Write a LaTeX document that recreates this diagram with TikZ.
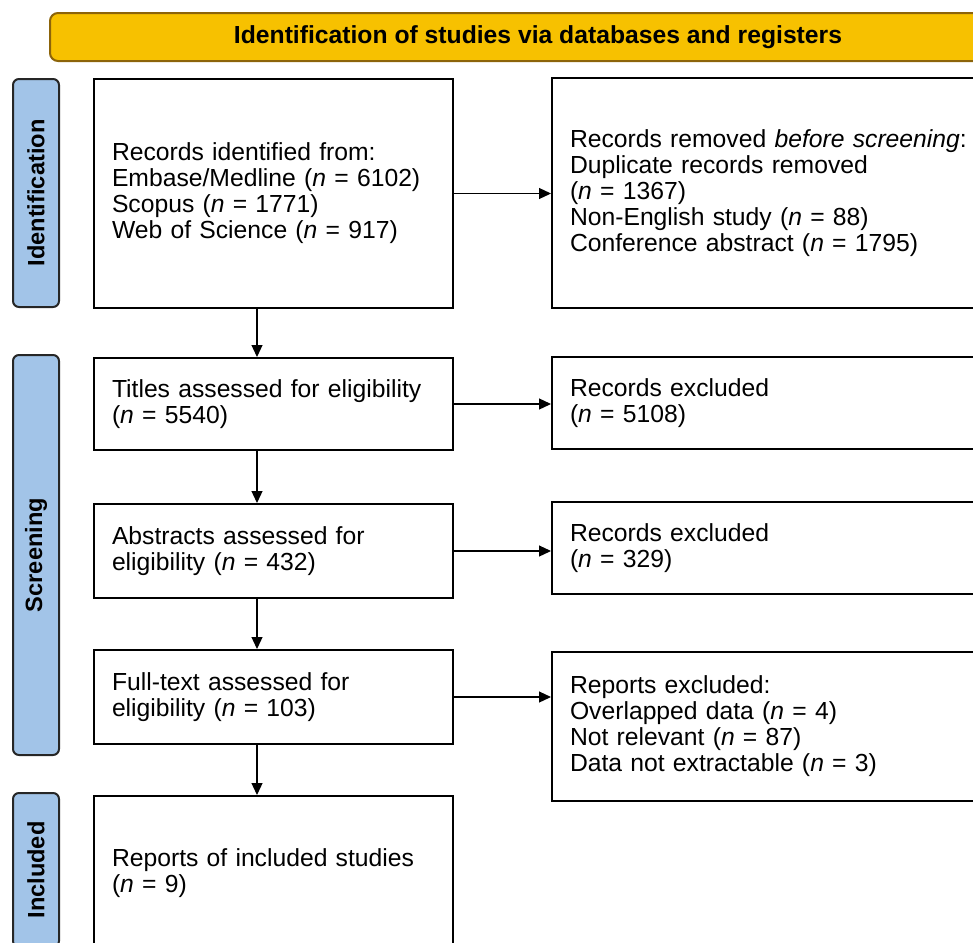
\documentclass[tikz,border=0pt]{standalone}
\usepackage{fontspec}
\setmainfont{Liberation Sans}
\usetikzlibrary{arrows.meta}
\definecolor{bannerfill}{RGB}{247,193,0}
\definecolor{bannerline}{RGB}{140,100,10}
\definecolor{phasefill}{RGB}{162,196,232}

\begin{document}
\begin{tikzpicture}[x=0.5pt, y=-0.5pt,
  every node/.style={font=\fontsize{12.35}{13}\selectfont},
  box/.style={draw, line width=1pt, anchor=north west, align=left, inner xsep=9pt, inner ysep=0pt},
  lbox/.style={box, text width=161.5pt, minimum height=#1},
  rbox/.style={box, text width=206.5pt, minimum height=#1},
  phase/.style={draw=black!85, fill=phasefill, line width=1pt, rounded corners=3pt, rotate=90,
    minimum height=23pt, minimum width=#1, font=\fontsize{11.8}{13}\selectfont\bfseries},
  arr/.style={-{Triangle[length=6pt,width=5.5pt]}, line width=0.6pt}]
% Page frame (pixel units of the original)
\useasboundingbox (0,0) rectangle (973,942);
\clip (0,0) rectangle (973,942);
% Banner
\node[draw=bannerline, fill=bannerfill, line width=1pt, rounded corners=4pt,
  minimum width=488pt, minimum height=24pt, font=\fontsize{12.35}{13}\selectfont\bfseries]
  (banner) at (538,37) {Identification of studies via databases and registers};
% Phase labels
\node[phase=114pt] (idlab) at (36,193) {Identification};
\node[phase=200pt] (scrlab) at (36,555) {Screening};
\node[phase=77pt] (inclab) at (36,870) {Included};
% Left column
\node[lbox=114.5pt] (ident) at (93,78) {Records identified from:\\ Embase/Medline (\textit{n} = 6102)\\ Scopus (\textit{n} = 1771)\\ Web of Science (\textit{n} = 917)};
\node[lbox=46pt] (titles) at (93,357) {Titles assessed for eligibility\\ (\textit{n} = 5540)};
\node[lbox=47pt] (abstr) at (93,503) {Abstracts assessed for\\ eligibility (\textit{n} = 432)};
\node[lbox=47pt] (fulltext) at (93,649) {Full-text assessed for\\ eligibility (\textit{n} = 103)};
\node[lbox=77.5pt] (incl) at (93,795) {Reports of included studies\\ (\textit{n} = 9)};
% Right column
\node[rbox=115pt] (removed) at (551,77) {Records removed \textit{before screening}:\\ Duplicate records removed\\ (\textit{n} = 1367)\\ Non-English study (\textit{n} = 88)\\ Conference abstract (\textit{n} = 1795)};
\node[rbox=46pt] (excl1) at (551,356) {Records excluded\\ (\textit{n} = 5108)};
\node[rbox=46pt] (excl2) at (551,501) {Records excluded\\ (\textit{n} = 329)};
\node[rbox=74.5pt] (excl3) at (551,651) {Reports excluded:\\ Overlapped data (\textit{n} = 4)\\ Not relevant (\textit{n} = 87)\\ Data not extractable (\textit{n} = 3)};
% Down arrows
\coordinate (col) at (257,0);
\draw[arr] (ident.south -| col) -- (titles.north -| col);
\draw[arr] (titles.south -| col) -- (abstr.north -| col);
\draw[arr] (abstr.south -| col) -- (fulltext.north -| col);
\draw[arr] (fulltext.south -| col) -- (incl.north -| col);
% Side arrows
\draw[arr] (ident.east) -- (removed.west |- ident.east);
\draw[arr] (titles.east) -- (excl1.west |- titles.east);
\draw[arr] (abstr.east) -- (excl2.west |- abstr.east);
\draw[arr] (fulltext.east) -- (excl3.west |- fulltext.east);
\end{tikzpicture}
\end{document}
